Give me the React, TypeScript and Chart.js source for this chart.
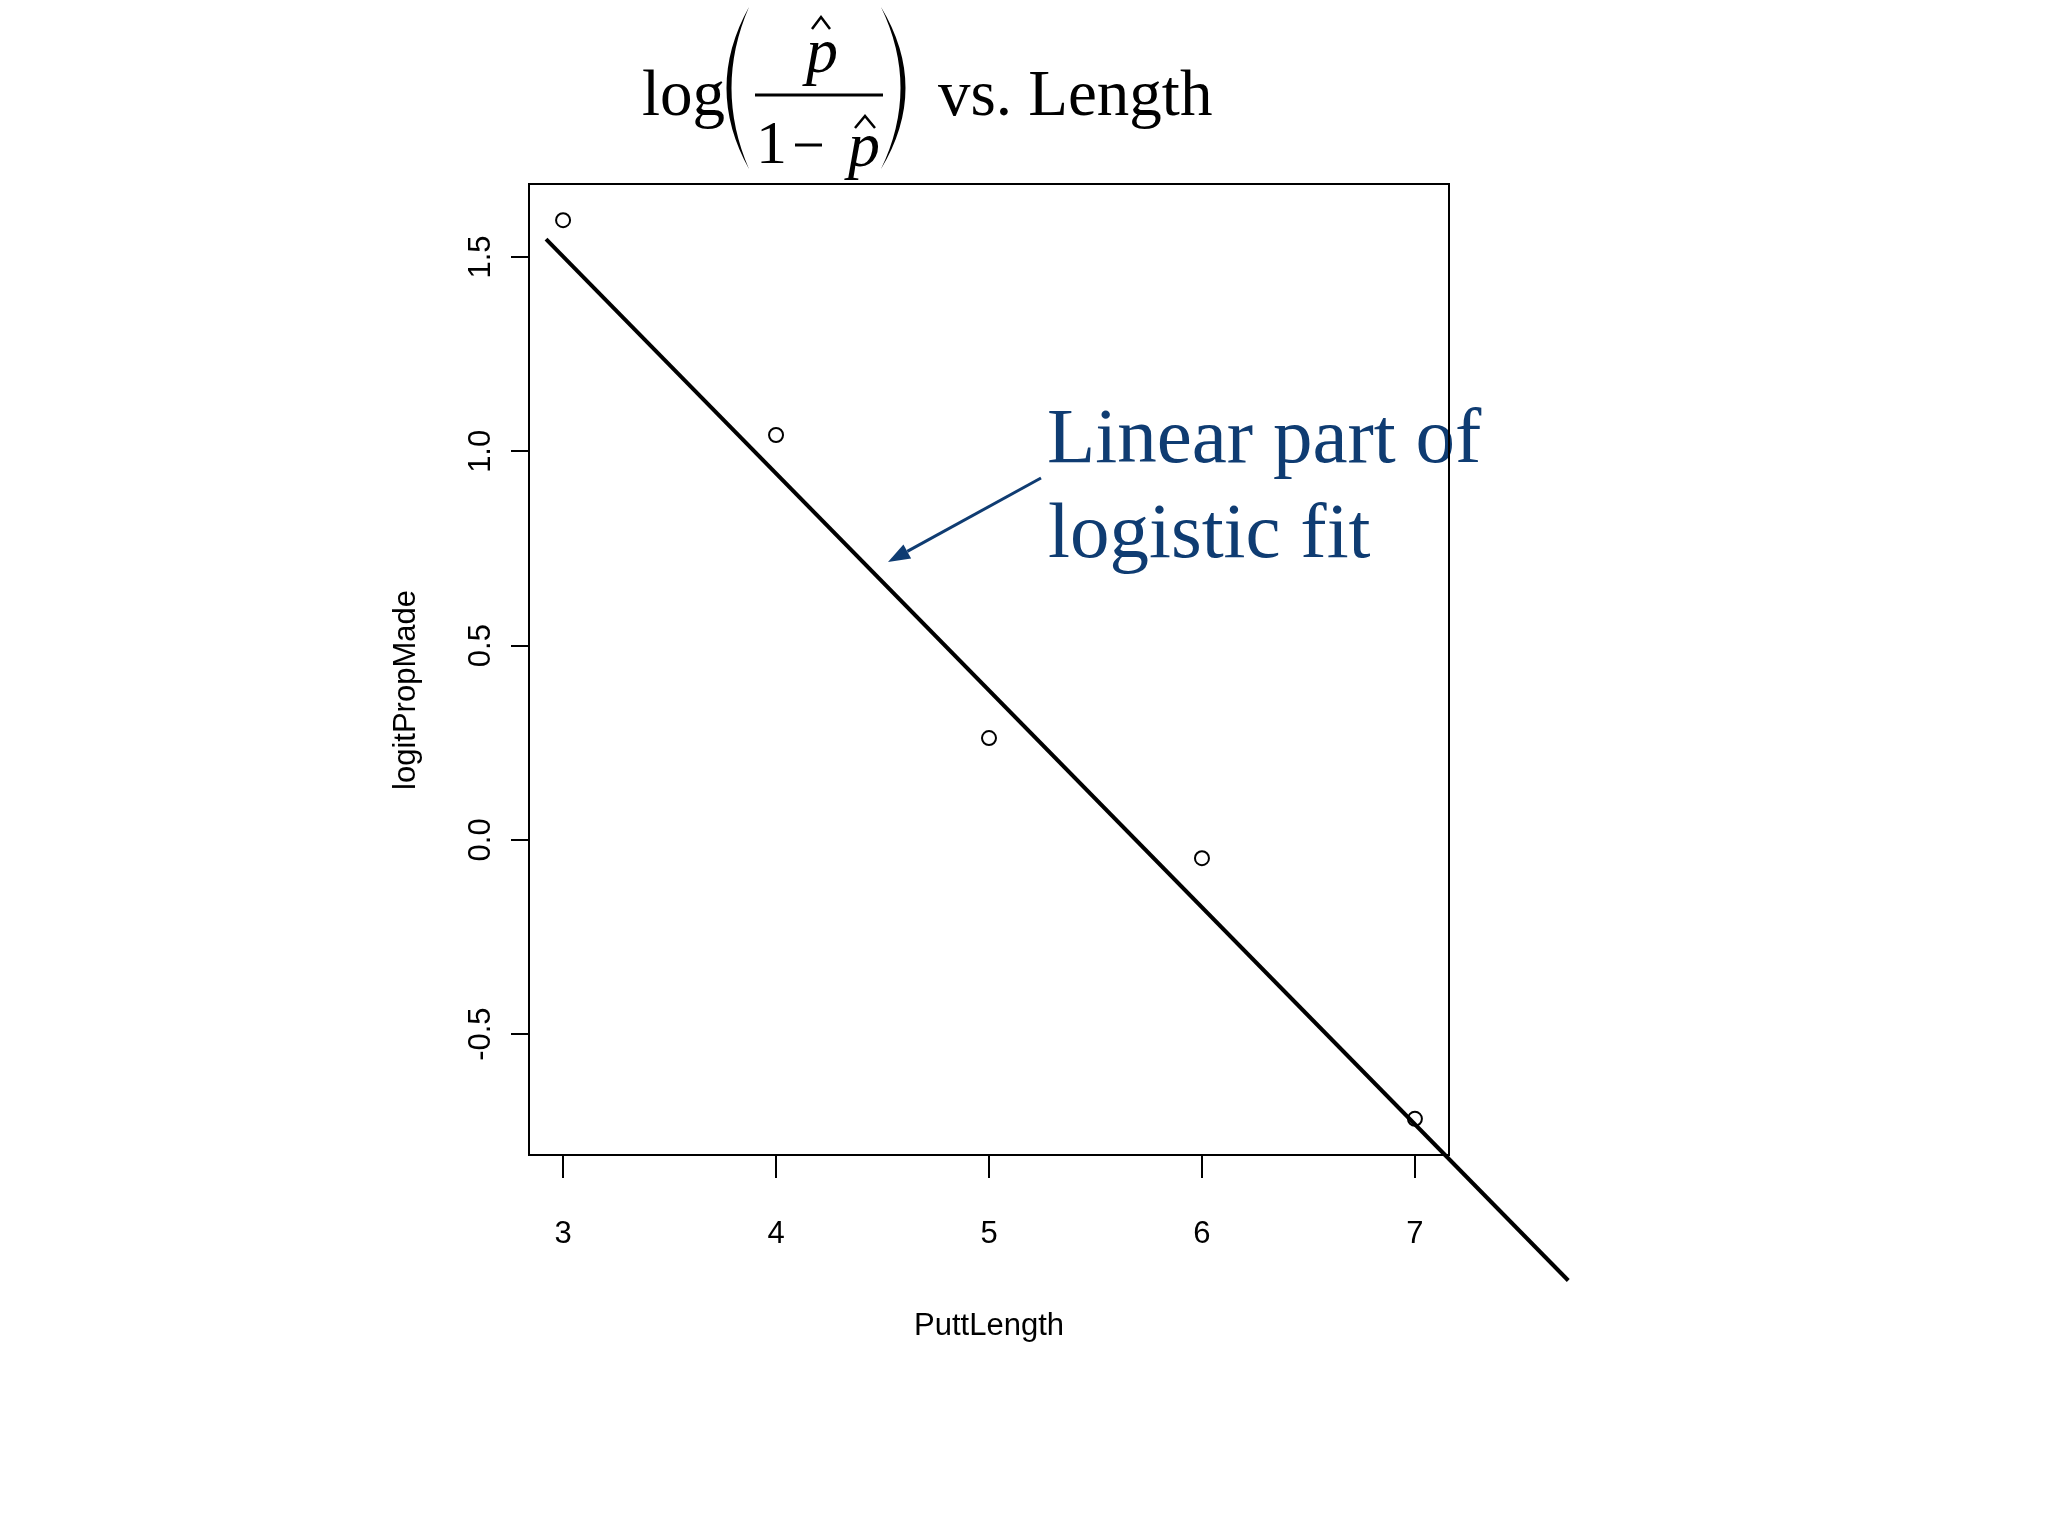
import React, { useEffect, useRef } from "react";
import { Chart, registerables } from "chart.js";

Chart.register(...registerables);

// ---- data ----
const puttLength = [3, 4, 5, 6, 7];
const logitPropMade = [1.595, 1.042, 0.262, -0.047, -0.718];
const fitLength = [2.92, 7.72];
const fitLogit = [1.546, -1.134];
const xTicks = [3, 4, 5, 6, 7];
const xTickLabels = ["3", "4", "5", "6", "7"];
const yTicks = [-0.5, 0, 0.5, 1, 1.5];
const yTickLabels = ["-0.5", "0.0", "0.5", "1.0", "1.5"];
const xRange = [2.84, 7.16];
const yRange = [-0.811, 1.688];
const xTitle = "PuttLength";
const yTitle = "logitPropMade";
const noteLines = ["Linear part of", "logistic fit"];

const SANS = '"Liberation Sans", Arial, Helvetica, sans-serif';
const SERIF = '"Liberation Serif", "Times New Roman", Times, serif';
const NOTE_COLOR = "#0f3c72";

const decor = {
  id: "decor",
  afterDraw(chart: any) {
    const ctx = chart.ctx as CanvasRenderingContext2D;
    const a = chart.chartArea;
    const xs = chart.scales.x;
    const ys = chart.scales.y;
    ctx.save();

    // annotation text
    ctx.fillStyle = NOTE_COLOR;
    ctx.font = `79px ${SERIF}`;
    ctx.textAlign = "left";
    ctx.textBaseline = "alphabetic";
    ctx.fillText(noteLines[0], 1047, 462);
    ctx.fillText(noteLines[1], 1048, 557);

    // arrow
    const sx = 1041, sy = 478, tx = 888, ty = 562;
    const ang = Math.atan2(ty - sy, tx - sx);
    const hl = 22, hw = 8;
    const bx = tx - hl * Math.cos(ang), by = ty - hl * Math.sin(ang);
    ctx.strokeStyle = NOTE_COLOR;
    ctx.lineWidth = 3;
    ctx.beginPath();
    ctx.moveTo(sx, sy);
    ctx.lineTo(bx, by);
    ctx.stroke();
    ctx.beginPath();
    ctx.moveTo(tx, ty);
    ctx.lineTo(bx + hw * Math.sin(ang), by - hw * Math.cos(ang));
    ctx.lineTo(bx - hw * Math.sin(ang), by + hw * Math.cos(ang));
    ctx.closePath();
    ctx.fillStyle = NOTE_COLOR;
    ctx.fill();

    // box
    ctx.strokeStyle = "#000";
    ctx.lineWidth = 2;
    ctx.strokeRect(a.left, a.top, a.right - a.left, a.bottom - a.top);

    // tick labels
    ctx.fillStyle = "#000";
    ctx.font = `31px ${SANS}`;
    ctx.textAlign = "center";
    ctx.textBaseline = "alphabetic";
    xTicks.forEach((v, i) => {
      ctx.fillText(xTickLabels[i], xs.getPixelForValue(v), a.bottom + 88);
    });
    yTicks.forEach((v, i) => {
      ctx.save();
      ctx.translate(a.left - 39, ys.getPixelForValue(v));
      ctx.rotate(-Math.PI / 2);
      ctx.fillText(yTickLabels[i], 0, 0);
      ctx.restore();
    });

    // axis titles
    ctx.fillText(xTitle, (a.left + a.right) / 2, a.bottom + 180);
    ctx.save();
    ctx.translate(415, 690);
    ctx.rotate(-Math.PI / 2);
    ctx.fillText(yTitle, 0, 0);
    ctx.restore();

    // main title: log( p̂ / (1 − p̂) ) vs. Length
    ctx.fillStyle = "#000";
    ctx.strokeStyle = "#000";
    ctx.textAlign = "left";
    ctx.font = `65px ${SERIF}`;
    ctx.fillText("log", 642, 115);
    ctx.fillText("vs. Length", 938, 115);

    // parentheses
    ctx.beginPath();
    ctx.moveTo(749, 7);
    ctx.quadraticCurveTo(704, 88, 749, 169);
    ctx.quadraticCurveTo(714, 88, 749, 7);
    ctx.closePath();
    ctx.fill();
    ctx.beginPath();
    ctx.moveTo(881, 7);
    ctx.quadraticCurveTo(930, 88, 881, 169);
    ctx.quadraticCurveTo(920, 88, 881, 7);
    ctx.closePath();
    ctx.fill();

    // fraction bar
    ctx.fillRect(755, 93.5, 128, 3);

    // numerator p-hat
    ctx.textAlign = "center";
    ctx.font = `italic 64px ${SERIF}`;
    ctx.fillText("p", 822, 72);
    // denominator
    ctx.textAlign = "left";
    ctx.font = `62px ${SERIF}`;
    ctx.fillText("1", 756, 163);
    ctx.fillRect(795, 143.5, 27, 3);
    ctx.textAlign = "center";
    ctx.font = `italic 64px ${SERIF}`;
    ctx.fillText("p", 864, 166);

    // hats
    ctx.lineWidth = 2.5;
    ctx.lineJoin = "miter";
    ctx.beginPath();
    ctx.moveTo(812, 29);
    ctx.lineTo(821, 17);
    ctx.lineTo(830, 29);
    ctx.stroke();
    ctx.beginPath();
    ctx.moveTo(855, 128);
    ctx.lineTo(865, 116);
    ctx.lineTo(875, 128);
    ctx.stroke();

    ctx.restore();
  },
};

export default function App() {
  const ref = useRef<HTMLCanvasElement | null>(null);

  useEffect(() => {
    if (!ref.current) return;
    const chart = new Chart(ref.current, {
      type: "scatter",
      data: {
        datasets: [
          {
            type: "line",
            label: "fit",
            data: fitLength.map((x, i) => ({ x, y: fitLogit[i] })),
            borderColor: "#000",
            borderWidth: 4,
            pointRadius: 0,
            fill: false,
            tension: 0,
            clip: false,
          } as any,
          {
            type: "scatter",
            label: "logitPropMade",
            data: puttLength.map((x, i) => ({ x, y: logitPropMade[i] })),
            pointStyle: "circle",
            pointRadius: 7,
            pointBorderWidth: 2,
            pointBorderColor: "#000",
            pointBackgroundColor: "rgba(0,0,0,0)",
            showLine: false,
          } as any,
        ],
      },
      options: {
        responsive: false,
        animation: false,
        events: [],
        layout: { padding: { left: 429, right: 599, top: 184, bottom: 281 } },
        plugins: {
          legend: { display: false },
          title: { display: false },
          tooltip: { enabled: false },
        },
        scales: {
          x: {
            type: "linear",
            min: xRange[0],
            max: xRange[1],
            border: { display: false },
            grid: {
              display: true,
              drawOnChartArea: false,
              drawTicks: true,
              tickLength: 23,
              color: "#000",
              lineWidth: 2,
            },
            ticks: { display: false },
            afterBuildTicks: (s: any) => {
              s.ticks = xTicks.map((v) => ({ value: v }));
            },
            afterFit: (s: any) => {
              s.height = 100;
            },
          },
          y: {
            type: "linear",
            min: yRange[0],
            max: yRange[1],
            border: { display: false },
            grid: {
              display: true,
              drawOnChartArea: false,
              drawTicks: true,
              tickLength: 18,
              color: "#000",
              lineWidth: 2,
            },
            ticks: { display: false },
            afterBuildTicks: (s: any) => {
              s.ticks = yTicks.map((v) => ({ value: v }));
            },
            afterFit: (s: any) => {
              s.width = 100;
            },
          },
        },
      } as any,
      plugins: [decor],
    });
    return () => chart.destroy();
  }, []);

  return (
    <div
      style={{
        position: "absolute",
        left: 0,
        top: 0,
        width: 2048,
        height: 1536,
        background: "#fff",
      }}
    >
      <canvas ref={ref} width={2048} height={1536} style={{ display: "block" }} />
    </div>
  );
}
